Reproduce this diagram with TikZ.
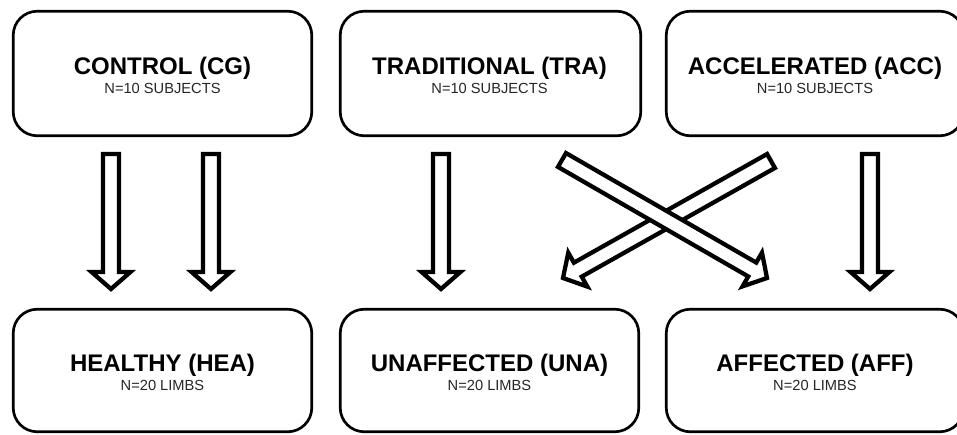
\documentclass[tikz,border=0pt]{standalone}
\usepackage{fontspec}
\setmainfont{Liberation Sans}
\usetikzlibrary{calc}
\tikzset{
  box/.style={draw=black, line width=2pt, rounded corners=18pt, fill=white, inner sep=0pt},
  ttl/.style={anchor=base, font=\bfseries\fontsize{18pt}{20pt}\selectfont, text=black, inner sep=0pt},
  sub/.style={anchor=base, font=\fontsize{11pt}{12pt}\selectfont, text=black!85, inner sep=0pt},
  fatarrow/.style={draw=black, fill=white, line width=3.2pt, line join=miter, miter limit=10}
}
\newcommand\fatarrow[2]{%
  \path coordinate (fah) at ($(#2)!12.75pt!(#1)$);
  \draw[fatarrow] ($(#1)!6pt!-90:(#2)$) -- ($(fah)!6pt!90:(#1)$) -- ($(fah)!14.6pt!90:(#1)$)
    -- (#2) -- ($(fah)!14.6pt!-90:(#1)$) -- ($(fah)!6pt!-90:(#1)$) -- ($(#1)!6pt!90:(#2)$) -- cycle;}
\begin{document}
\begin{tikzpicture}[x=0.75pt, y=-0.75pt]
\useasboundingbox (0,0) rectangle (957,435);
\clip (0,0) rectangle (957,435);
% boxes
\node[box, minimum width=223.9pt, minimum height=93.4pt] (cg)  at (162.5,73.5) {};
\node[box, minimum width=225.4pt, minimum height=93.4pt] (tra) at (490.5,73.5) {};
\node[box, minimum width=223.1pt, minimum height=93.4pt] (acc) at (815,73.5) {};
\node[box, minimum width=223.9pt, minimum height=91.9pt] (hea) at (162.5,370.5) {};
\node[box, minimum width=223.9pt, minimum height=91.9pt] (una) at (489.5,370.5) {};
\node[box, minimum width=223.1pt, minimum height=91.9pt] (aff) at (815,370.5) {};
% texts
\node[ttl] (cgt)  at ($(cg.center)+(0,1)$)  {CONTROL (CG)};
\node[sub] (cgs)  at ($(cg.center)+(0,20)$) {N=10 SUBJECTS};
\node[ttl] (trat) at ($(tra.center)+(-1,1)$)  {TRADITIONAL (TRA)};
\node[sub] (tras) at ($(tra.center)+(-1,20)$) {N=10 SUBJECTS};
\node[ttl] (acct) at ($(acc.center)+(0,1)$)  {ACCELERATED (ACC)};
\node[sub] (accs) at ($(acc.center)+(0,20)$) {N=10 SUBJECTS};
\node[ttl] (heat) at ($(hea.center)+(0,1)$)  {HEALTHY (HEA)};
\node[sub] (heas) at ($(hea.center)+(0,20)$) {N=20 LIMBS};
\node[ttl] (unat) at ($(una.center)+(0,1)$)  {UNAFFECTED (UNA)};
\node[sub] (unas) at ($(una.center)+(0,20)$) {N=20 LIMBS};
\node[ttl] (afft) at ($(aff.center)+(0,1)$)  {AFFECTED (AFF)};
\node[sub] (affs) at ($(aff.center)+(0,20)$) {N=20 LIMBS};
% arrow end points
\coordinate (c1s) at (111,154);  \coordinate (c1e) at (111,289);
\coordinate (c2s) at (211,154);  \coordinate (c2e) at (211,289);
\coordinate (t1s) at (441,154);  \coordinate (t1e) at (441,289);
\coordinate (a1s) at (870,154);  \coordinate (a1e) at (870,289);
\coordinate (xas) at (771,161);  \coordinate (xae) at (563,278);
\coordinate (xbs) at (562,160);  \coordinate (xbe) at (767,278);
% arrows
\fatarrow{c1s}{c1e}
\fatarrow{c2s}{c2e}
\fatarrow{t1s}{t1e}
\fatarrow{a1s}{a1e}
\fatarrow{xas}{xae}
\fatarrow{xbs}{xbe}
\end{tikzpicture}
\end{document}
